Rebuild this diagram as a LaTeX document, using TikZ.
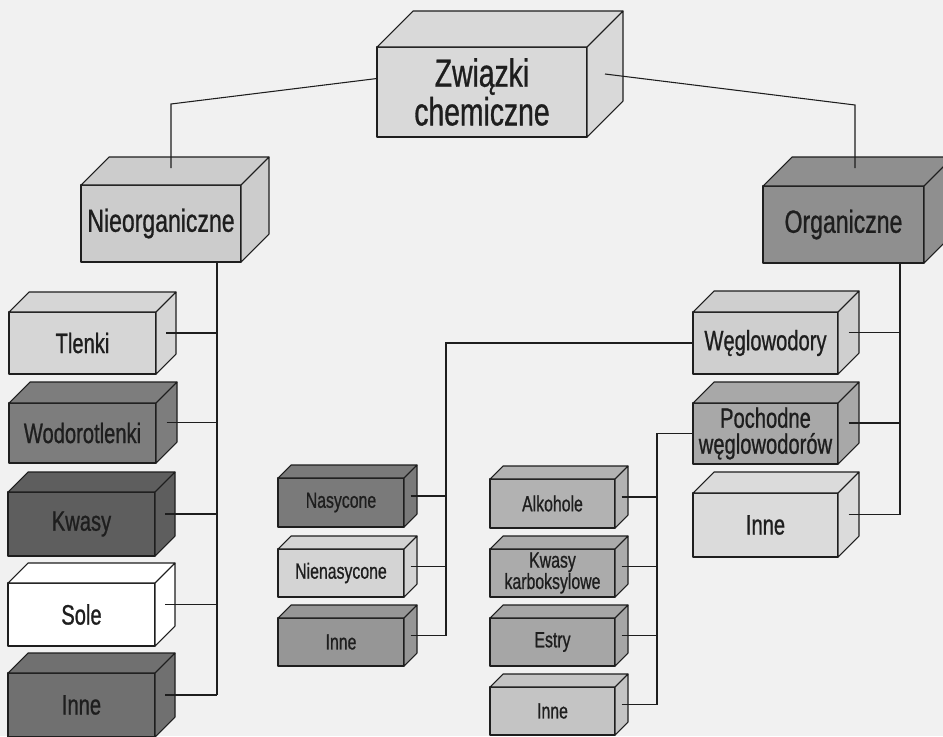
\documentclass[tikz,border=0pt]{standalone}
\usepackage{fontspec}
\setmainfont{Liberation Sans}[FakeStretch=0.72,FakeBold=0.8]
\usetikzlibrary{calc}
\definecolor{paper}{HTML}{F1F1F1}
\definecolor{ink}{HTML}{1E1E1E}
\tikzset{
  boxline/.style={draw=ink, line width=0.8pt, line join=round},
  frontbox/.style={rectangle, boxline, inner sep=0pt, outer sep=0pt, align=center, text=ink},
  conn/.style={draw=ink, line width=0.8pt},
  fbig/.style={font=\fontsize{29.5}{29}\selectfont},
  fmid/.style={font=\fontsize{24}{26}\selectfont},
  fsub/.style={font=\fontsize{21}{19.5}\selectfont},
  fsmall/.style={font=\fontsize{16.5}{16}\selectfont},
}
% name, x1, y1, x2, y2, depth, colour, font style, text
\newcommand\cub[9]{%
  \node[frontbox, fill=#7, #8, minimum width={(#4-#2)*0.75pt}, minimum height={(#5-#3)*0.75pt}]
    (#1) at ({(#2+#4)/2},{(#3+#5)/2}) {#9};
  \filldraw[fill=#7, boxline] (#1.north west) -- ++(#6,-#6) -- ++({#4-#2},0) -- (#1.north east) -- cycle;
  \filldraw[fill=#7, boxline] (#1.north east) -- ++(#6,-#6) -- ++(0,{#5-#3}) -- (#1.south east) -- cycle;
  \coordinate (#1-s) at ($(#1.east)+({#6/2},{-#6/2})$);
}
\begin{document}
\begin{tikzpicture}[x=0.75pt, y=-0.75pt]
\useasboundingbox (0,0) rectangle (943,736);
\fill[paper] (0,0) rectangle (943,736);
\clip (0,0) rectangle (943,736);

% boxes
\cub{zw}{377}{47}{587}{137}{36}{black!15}{fbig}{Związki\\chemiczne}
\cub{nieorg}{81}{185}{241}{262}{28}{black!20}{fmid}{Nieorganiczne}
\cub{org}{763}{186}{924}{263}{29}{black!44}{fmid}{Organiczne}

\cub{tlenki}{9}{312}{156}{374}{20}{black!16}{fsub}{Tlenki}
\cub{wodo}{9}{403}{156}{463}{21}{black!51}{fsub}{Wodorotlenki}
\cub{kwasy}{8}{492}{155}{556}{20}{black!63}{fsub}{Kwasy}
\cub{sole}{8}{583}{155}{646}{20}{white}{fsub}{Sole}
\cub{inneL}{8}{673}{155}{737}{20}{black!56}{fsub}{Inne}

\cub{wegl}{693}{312}{838}{374}{21}{black!19}{fsub}{Węglowodory}
\cub{poch}{693}{403}{838}{464}{21}{black!34}{fsub}{Pochodne\\węglowodorów}
\cub{inneR}{693}{493}{838}{557}{21}{black!14}{fsub}{Inne}

\cub{nas}{278}{478}{404}{527}{13}{black!52}{fsmall}{Nasycone}
\cub{nienas}{278}{549}{404}{597}{13}{black!17}{fsmall}{Nienasycone}
\cub{inneM}{278}{618}{404}{666}{13}{black!41}{fsmall}{Inne}

\cub{alk}{490}{479}{615}{528}{13}{black!30}{fsmall}{Alkohole}
\cub{kk}{490}{549}{615}{597}{13}{black!33}{fsmall}{Kwasy\\karboksylowe}
\cub{estry}{490}{618}{615}{666}{13}{black!35}{fsmall}{Estry}
\cub{inneN}{490}{687}{615}{735}{13}{black!23}{fsmall}{Inne}

% helper coordinates
\coordinate (zwL) at ($(zw.north west)!0.35!(zw.south west)$);
\coordinate (eL) at (171,104);
\coordinate (tL) at (171,168);
\coordinate (eR) at (855,105);
\coordinate (tR) at (855,168);
\coordinate (vL) at (217,0);
\coordinate (vR) at (900,0);
\coordinate (vM) at (446,0);
\coordinate (vN) at (657,0);
\coordinate (wL) at ($(wegl.north west)!0.5!(wegl.south west)$);
\coordinate (pL) at ($(poch.north west)!0.5!(poch.south west)$);

% top level connectors
\draw[conn] (zwL) -- (eL) -- (tL);
\draw[conn] (zw-s) -- (eR) -- (tR);

% inorganic group
\draw[conn] (nieorg.south -| vL) -- (inneL-s -| vL);
\foreach \n in {tlenki,wodo,kwasy,sole,inneL} \draw[conn] (\n-s) -- (\n-s -| vL);

% organic group
\draw[conn] (org.south -| vR) -- (inneR-s -| vR);
\foreach \n in {wegl,poch,inneR} \draw[conn] (\n-s) -- (\n-s -| vR);

% hydrocarbons
\draw[conn] (wL) -- (wL -| vM) -- (inneM-s -| vM);
\foreach \n in {nas,nienas,inneM} \draw[conn] (\n-s) -- (\n-s -| vM);

% derivatives
\draw[conn] (pL) -- (pL -| vN) -- (inneN-s -| vN);
\foreach \n in {alk,kk,estry,inneN} \draw[conn] (\n-s) -- (\n-s -| vN);
\end{tikzpicture}
\end{document}
